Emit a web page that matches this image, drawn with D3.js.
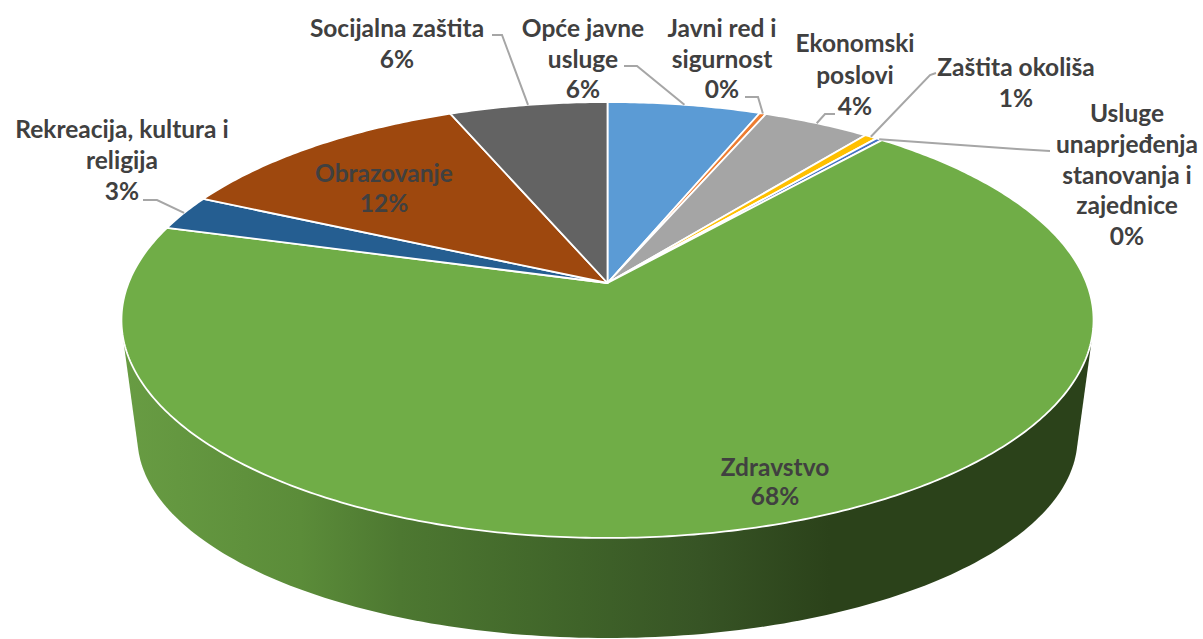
<!DOCTYPE html>
<html>
<head>
<meta charset="utf-8">
<script src="https://cdn.jsdelivr.net/npm/d3@7"></script>
<style>
  body { margin: 0; background: #fff; }
  text { font-family: Lato, "Open Sans", sans-serif; font-weight: 700; font-size: 24.5px; fill: #404040; text-anchor: middle; }
</style>
</head>
<body>
<svg id="chart" width="1203" height="639"></svg>
<script>
const categories = ["Opće javne usluge", "Javni red i sigurnost", "Ekonomski poslovi", "Zaštita okoliša",
  "Usluge unaprjeđenja stanovanja i zajednice", "Zdravstvo", "Rekreacija, kultura i religija", "Obrazovanje", "Socijalna zaštita"];
const values = [6.0, 0.25, 4.2, 0.5, 0.25, 68.2, 2.6, 11.8, 6.2];
const colors = ["#5b9bd5", "#ed7d31", "#a5a5a5", "#ffc000", "#4472c4", "#70ad47", "#255e91", "#9e480e", "#636363"];

// label wrapping, same order as categories
const labelLines = [["Opće javne", "usluge"], ["Javni red i", "sigurnost"], ["Ekonomski", "poslovi"], ["Zaštita okoliša"],
  ["Usluge", "unaprjeđenja", "stanovanja i", "zajednice"], ["Zdravstvo"], ["Rekreacija, kultura i", "religija"], ["Obrazovanje"], ["Socijalna zaštita"]];
// x centre, first baseline, line step
const labelPos = [[583, 37, 30.5], [722, 37, 30.5], [855, 52, 31.5], [1016, 76, 31], [1127, 122, 30.8],
  [775, 476, 29], [122, 138, 31], [384, 182, 30], [397, 37, 31]];
// leader elbow points (from the label side), the last point comes from the slice
const leaders = [[[624, 66], [637, 66]], [[745, 97], [758, 97]], [[835, 114], [825, 114]], [[936, 73], [930, 75]],
  [[1050, 151], [1017, 149]], null, [[143, 200], [157, 200]], null, [[492, 35], [502, 35]]];

// side shading, x position and colour
const sideStops = [[123, "#689c43"], [300, "#5b8c39"], [400, "#4d7831"], [580, "#3f6329"], [700, "#375425"], [830, "#2b421a"], [1094, "#2b421a"]];

const svg = d3.select("#chart");

// perspective circle -> screen, k is the tilt. top rim and lower rim of the disc
function projector(x0, y0, a, b, k) {
  return t => {
    const w = 1 + k * Math.cos(t);
    return [x0 + a * Math.sin(t) / w, y0 - b * Math.cos(t) / w];
  };
}
const topRim = projector(607.5, 283, 479, 211.7, 0.1697);
const lowRim = projector(607.5, 408, 464.7, 195.5, 0.15);

const pie = d3.pie().sort(null).value(d => d);
const arcs = pie(values);
const line = d3.line();

const grad = svg.append("defs").append("linearGradient")
  .attr("id", "side")
  .attr("gradientUnits", "userSpaceOnUse")
  .attr("x1", sideStops[0][0]).attr("x2", sideStops[sideStops.length - 1][0])
  .attr("y1", 0).attr("y2", 0);
const stopScale = d3.scaleLinear().domain([sideStops[0][0], sideStops[sideStops.length - 1][0]]).range([0, 1]);
grad.selectAll("stop").data(sideStops).enter().append("stop")
  .attr("offset", d => stopScale(d[0]))
  .attr("stop-color", d => d[1]);

// body of the disc
const ring = d3.range(0, 360, 1).map(d => d * Math.PI / 180);
const hull = d3.polygonHull(ring.map(topRim).concat(ring.map(lowRim)));
svg.append("path")
  .attr("d", line(hull) + "Z")
  .attr("fill", "url(#side)");

// top face
function slicePath(d) {
  const n = Math.max(2, Math.ceil((d.endAngle - d.startAngle) * 90));
  const pts = d3.range(n + 1).map(i => topRim(d.startAngle + (d.endAngle - d.startAngle) * i / n));
  return line([[607.5, 283]].concat(pts)) + "Z";
}
svg.selectAll(".slice").data(arcs).enter().append("path")
  .attr("class", "slice")
  .attr("d", slicePath)
  .attr("fill", (d, i) => colors[i])
  .attr("stroke", "#fff")
  .attr("stroke-width", 1.8)
  .attr("stroke-linejoin", "round");

// leaders
svg.selectAll(".leader").data(arcs.filter((d, i) => leaders[i])).enter().append("path")
  .attr("class", "leader")
  .attr("d", d => line(leaders[d.index].concat([topRim((d.startAngle + d.endAngle) / 2)])))
  .attr("fill", "none")
  .attr("stroke", "#a6a6a6")
  .attr("stroke-width", 2);

// labels
const labels = svg.selectAll(".label").data(arcs).enter().append("text")
  .attr("class", "label")
  .attr("transform", d => "translate(" + labelPos[d.index][0] + "," + labelPos[d.index][1] + ")");
labels.selectAll("tspan")
  .data(d => labelLines[d.index].concat([Math.round(values[d.index]) + "%"]).map(t => ({ t, step: labelPos[d.index][2] })))
  .enter().append("tspan")
  .attr("x", 0)
  .attr("y", (d, i) => i * d.step)
  .text(d => d.t);
</script>
</body>
</html>
